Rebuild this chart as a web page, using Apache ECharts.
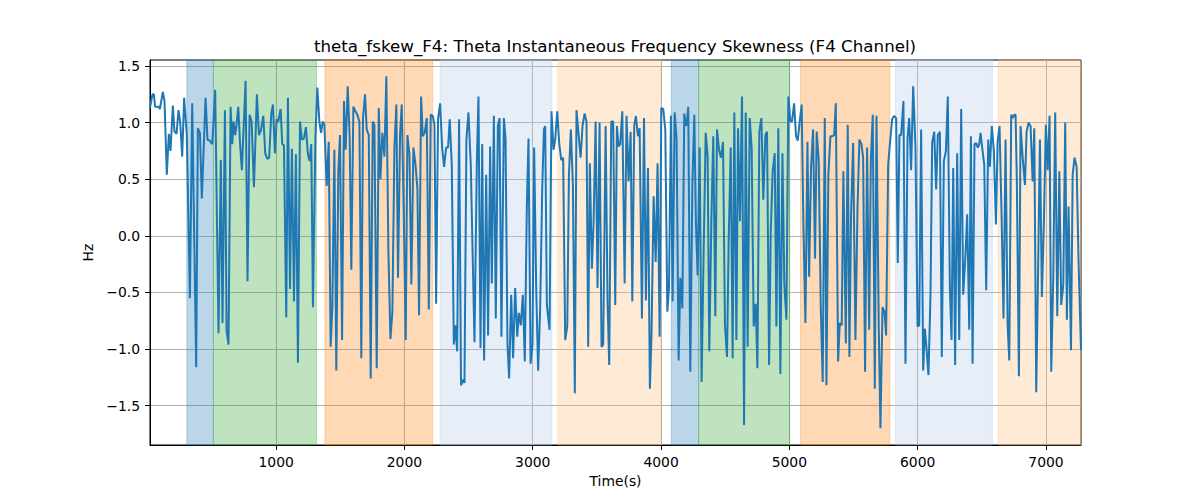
<!DOCTYPE html>
<html>
<head>
<meta charset="utf-8">
<script src="https://cdn.jsdelivr.net/npm/echarts@6/dist/echarts.min.js"></script>
<style>
html,body{margin:0;padding:0;background:#fff;}
#chart{width:1200px;height:500px;}
</style>
</head>
<body>
<div id="chart"></div>
<script>
// ---- data ----
var titleText = 'theta_fskew_F4: Theta Instantaneous Frequency Skewness (F4 Channel)';
var xName = 'Time(s)';
var yName = 'Hz';
var xTicks = [1000, 2000, 3000, 4000, 5000, 6000, 7000];
var yTicks = [-1.5, -1.0, -0.5, 0.0, 0.5, 1.0, 1.5];
var xRange = [17, 7273];
var yRange = [-1.847, 1.553];

var times = [
17,36,47,57,73,86,94,117,130,148,164,177,195,208,224,239,252,268,283,304,
328,346,377,390,406,421,450,465,484,502,525,551,569,582,601,614,629,645,658,668,
681,692,705,718,733,762,777,793,809,827,850,866,881,900,915,931,946,962,975,991,
1004,1017,1035,1048,1061,1079,1092,1108,1123,1139,1154,1170,1186,1201,1217,1232,1248,
1261,1274,1287,1306,1321,1337,1350,1363,1376,1394,1410,1425,1438,1454,1469,1485,1498,1514,
1529,1542,1558,1573,1586,1602,1618,1633,1649,1664,1677,1693,1706,1722,1737,1753,1766,1784,
1800,1813,1828,1844,1859,1875,1891,1906,1922,1937,1950,1966,1979,1995,2010,2023,2039,2054,
2070,2086,2101,2114,2130,2143,2158,2174,2190,2205,2221,2234,2247,2262,2278,2294,2309,2325,
2340,2353,2369,2385,2398,2411,2426,2441,2455,2468,2483,2499,2517,2546,2564,2577,2593,2606,
2621,2637,2652,2668,2681,2697,2712,2728,2741,2756,2775,2788,2803,2816,2832,2847,2863,2879,
2892,2907,2923,2938,2954,2967,2983,2998,3011,3027,3042,3058,3074,3087,3097,3110,3131,3146,
3162,3175,3191,3206,3222,3237,3253,3269,3282,3297,3313,3328,3341,3360,3373,3388,3404,3419,
3432,3445,3461,3474,3490,3505,3521,3536,3549,3568,3583,3596,3612,3627,3643,3656,3669,3682,
3698,3716,3731,3747,3763,3776,3791,3804,3820,3833,3851,3867,3882,3898,3913,3926,3942,3958,
3973,3989,4002,4017,4033,4049,4062,4077,4090,4106,4121,4137,4150,4166,4181,4194,4202,4212,
4228,4244,4259,4272,4285,4301,4316,4332,4348,4363,4376,4392,4407,4423,4436,4452,4467,4483,
4498,4514,4527,4543,4558,4571,4587,4600,4615,4631,4647,4660,4675,4691,4706,4722,4738,4751,
4766,4782,4797,4813,4826,4842,4855,4870,4886,4899,4914,4930,4946,4961,4977,4992,5008,5021,
5037,5052,5065,5081,5096,5109,5125,5141,5154,5169,5185,5200,5213,5229,5245,5260,5276,5289,
5304,5320,5336,5349,5362,5380,5393,5408,5421,5440,5455,5468,5481,5497,5515,5531,5546,5562,
5575,5590,5606,5622,5635,5650,5666,5679,5697,5710,5726,5741,5754,5770,5785,5801,5817,5832,
5845,5858,5871,5889,5905,5921,5934,5949,5965,5983,5999,6012,6027,6043,6056,6069,6084,6100,
6113,6129,6144,6157,6173,6188,6204,6220,6235,6251,6264,6277,6292,6308,6324,6339,6355,6370,
6386,6402,6415,6428,6443,6456,6469,6480,6490,6506,6519,6534,6550,6563,6578,6594,6610,6623,
6638,6654,6669,6685,6701,6714,6729,6742,6753,6763,6773,6789,6802,6818,6836,6849,6864,6880,
6896,6909,6924,6937,6953,6968,6984,6999,7013,7028,7041,7057,7072,7088,7104,7119,7135,7150,
7163,7176,7195,7208,7223,7239,7254,7273
];

var values = [
1.13,1.25,1.25,1.14,1.14,1.14,1.12,1.27,1.19,0.54,0.90,0.75,1.15,0.92,0.90,1.11,1.01,0.70,1.22,0.89,
-0.55,1.17,-1.16,0.95,0.91,0.33,1.22,0.85,0.84,0.81,1.29,-0.86,0.67,-0.77,1.11,-0.84,-0.96,1.14,0.81,1.01,
0.89,0.99,1.14,0.83,0.58,1.37,-0.40,1.07,1.01,0.43,1.25,0.89,0.93,1.06,0.73,0.68,0.69,1.08,1.16,0.73,
1.03,1.01,1.12,0.81,0.80,-0.72,1.22,-0.47,0.77,-0.58,0.72,-1.12,1.01,0.85,0.86,0.96,0.72,
0.66,0.81,-0.63,0.86,1.31,1.01,0.91,1.01,0.98,0.44,0.83,-0.98,-0.64,0.76,-1.19,0.58,0.89,-0.92,
1.19,0.76,1.32,0.88,-0.30,1.14,1.10,1.07,1.01,-1.08,1.04,1.25,0.94,0.89,-1.26,1.01,0.98,-1.17,
1.13,0.50,0.91,0.70,1.41,-0.14,-0.91,-0.67,0.78,1.16,-0.37,0.89,1.16,0.19,-0.92,0.89,0.72,-0.43,
0.78,0.63,0.42,-0.70,1.23,0.88,0.91,1.04,-0.65,1.07,1.06,0.98,-0.60,1.03,1.17,0.78,0.61,0.78,
0.78,1.03,0.63,-0.96,-0.79,-1.02,1.03,-1.32,-1.27,-1.30,0.85,1.09,0.63,-0.94,0.63,1.23,-0.99,0.81,
-1.10,0.54,-0.88,0.79,-0.42,1.06,-0.73,0.97,1.04,-0.89,1.04,0.86,-0.95,-1.26,-0.52,-1.08,-0.46,-0.89,
-0.68,-0.79,-0.52,-1.11,0.26,0.86,-1.13,-0.96,0.78,-0.46,-1.19,-0.64,0.42,0.94,0.97,-0.61,-0.83,1.10,
0.76,0.85,1.10,0.82,0.67,0.69,-0.92,-0.80,0.54,0.94,0.45,-1.39,1.11,0.86,0.69,0.97,1.08,1.01,
-0.98,0.64,-0.29,0.11,1.01,-0.46,1.00,-0.98,-0.96,0.97,-0.58,-1.14,1.01,1.01,-0.61,0.97,0.79,0.81,
1.10,-0.42,1.06,0.48,0.92,-0.58,0.97,1.06,0.88,0.95,-0.73,1.04,-0.57,0.60,-1.35,-0.85,0.35,-0.23,
0.64,-0.89,1.13,1.12,0.94,-0.67,-0.46,1.06,-0.58,1.09,0.86,-1.10,-0.37,-0.64,1.08,0.97,1.01,1.14,
-1.20,0.44,1.07,0.11,-0.35,0.78,-1.29,-0.14,0.91,0.70,-1.02,0.13,0.88,-0.71,0.94,0.76,0.69,0.83,
-0.79,-1.07,-0.05,0.78,-1.08,1.09,-0.92,0.95,0.13,1.23,-1.67,1.09,-0.98,1.04,0.78,-0.80,-0.60,-1.17,
0.92,1.04,0.32,0.89,0.92,-1.14,0.04,0.57,0.73,-0.80,0.95,-1.22,0.73,-0.43,-0.74,1.23,1.01,1.01,
1.17,0.88,0.84,1.01,1.16,0.13,-0.77,0.83,-0.36,0.60,0.94,-0.20,0.92,0.66,-0.64,-1.29,1.04,-1.32,
0.54,0.88,0.88,0.89,1.17,-1.11,-0.77,-0.79,0.57,-0.95,0.98,-1.07,0.19,0.82,-0.92,0.24,0.85,0.81,
0.69,-1.20,0.78,-0.83,0.66,1.07,-1.35,1.06,-0.82,-1.70,-0.63,-0.67,-0.88,0.63,0.83,1.03,1.06,1.04,
-0.24,0.89,0.89,1.19,-1.13,0.86,1.04,0.58,1.32,0.78,-0.80,-0.79,0.94,-1.19,-0.82,-0.99,-1.23,-0.52,
0.82,0.92,0.41,0.89,0.92,-1.07,0.66,0.75,1.23,-0.46,-0.92,0.60,-1.14,0.73,-0.92,1.12,-0.52,-0.23,
0.19,-0.83,0.88,-1.13,0.81,0.82,0.78,0.81,0.91,0.75,0.63,-0.48,0.85,0.61,0.97,0.75,0.10,0.83,
0.97,0.19,-0.73,0.85,-0.79,-1.10,1.07,1.04,1.07,1.07,0.48,-1.24,0.97,0.70,0.45,0.92,1.00,0.97,
0.48,0.95,-1.38,-0.43,0.85,-0.54,0.13,0.98,0.58,1.06,-1.20,-0.35,1.09,-0.71,0.57,-0.61,-0.43,1.00,
-0.74,0.26,-1.01,0.54,0.69,0.61,-0.23,-1.01
];

// shaded periods (start, end, kind index)
var spanStarts = [304, 512, 1380, 2278, 3195, 4080, 4293, 5086, 5827, 6628];
var spanEnds   = [510, 1314, 2220, 3149, 3999, 4293, 5003, 5783, 6583, 7273];
var spanKinds  = [0, 1, 2, 3, 4, 0, 1, 2, 3, 4];

// ---- styles ----
var spanPalette = [
  'rgba(31,119,180,0.3)',
  'rgba(44,160,44,0.3)',
  'rgba(255,127,14,0.3)',
  'rgba(174,199,232,0.3)',
  'rgba(255,187,120,0.3)'
];
var FONT = 'DejaVu Sans';

var lineData = times.map(function (t, i) { return [t, values[i]]; });
var areas = spanStarts.map(function (s, i) {
  var c = spanPalette[spanKinds[i]];
  return [{ xAxis: s, itemStyle: { color: c, borderColor: c, borderWidth: 1 } }, { xAxis: spanEnds[i] }];
});

function fmtY(v) {
  var s = Number(v).toFixed(1);
  return s.replace('-', '\u2212');
}

var chart = echarts.init(document.getElementById('chart'), null, { renderer: 'svg', width: 1200, height: 500 });
chart.setOption({
  animation: false,
  backgroundColor: '#ffffff',
  textStyle: { fontFamily: FONT },
  grid: { left: 150, right: 119, top: 60, bottom: 55, show: true, borderColor: '#000', borderWidth: 1, backgroundColor: 'transparent' },
  graphic: [{
    type: 'text', x: 615, y: 46, z: 100,
    style: { text: titleText, fill: '#000', font: '16.7px "DejaVu Sans"', textAlign: 'center', textVerticalAlign: 'middle' }
  }],
  xAxis: {
    type: 'value', min: xRange[0], max: xRange[1], minInterval: 1000, maxInterval: 1000,
    name: xName, nameLocation: 'middle', nameGap: 29,
    nameTextStyle: { color: '#000', fontSize: 13.9, fontFamily: FONT },
    axisLine: { show: true, onZero: false, lineStyle: { color: '#000', width: 1 } },
    axisTick: { show: true, length: 5, inside: false, customValues: xTicks, lineStyle: { color: '#000', width: 1 } },
    axisLabel: { show: true, margin: 10, color: '#000', fontSize: 13.9, fontFamily: FONT, customValues: xTicks,
      formatter: function (v) { return String(v); } },
    splitLine: { show: true, lineStyle: { color: '#b0b0b0', width: 1 } }
  },
  yAxis: {
    type: 'value', min: yRange[0], max: yRange[1], minInterval: 0.5, maxInterval: 0.5,
    name: yName, nameLocation: 'middle', nameGap: 50, nameRotate: 90,
    nameTextStyle: { color: '#000', fontSize: 13.9, fontFamily: FONT },
    axisLine: { show: true, onZero: false, lineStyle: { color: '#000', width: 1 } },
    axisTick: { show: true, length: 5, inside: false, customValues: yTicks, lineStyle: { color: '#000', width: 1 } },
    axisLabel: { show: true, margin: 10, color: '#000', fontSize: 13.9, fontFamily: FONT, customValues: yTicks,
      formatter: fmtY },
    splitLine: { show: true, lineStyle: { color: '#b0b0b0', width: 1 } }
  },
  series: [
    {
      type: 'line', name: 'spans', data: [], z: 1, silent: true,
      markArea: { silent: true, data: areas }
    },
    {
      type: 'line', name: 'theta_fskew_F4', data: lineData, z: 3,
      showSymbol: false, symbol: 'none',
      lineStyle: { color: '#1f77b4', width: 2 },
      itemStyle: { color: '#1f77b4' }
    }
  ]
});
</script>
</body>
</html>
